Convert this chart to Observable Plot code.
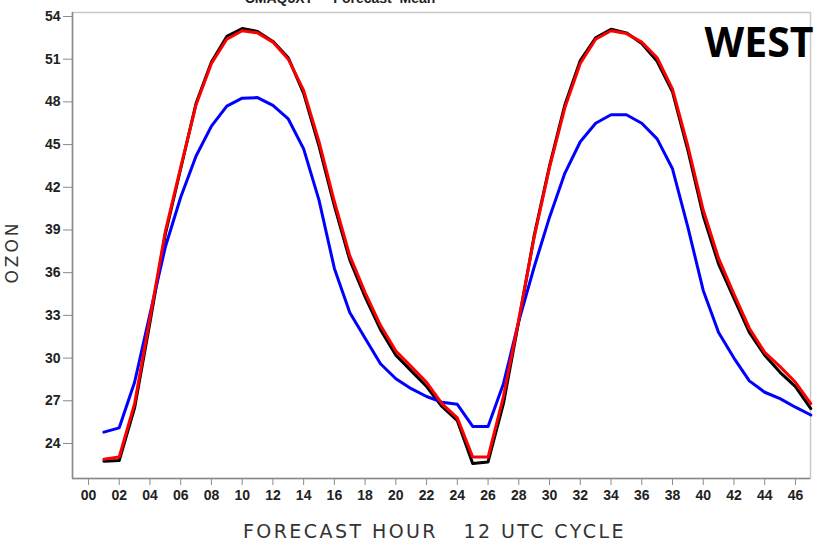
<!DOCTYPE html>
<html>
<head>
<meta charset="utf-8">
<script src="https://cdn.jsdelivr.net/npm/d3@7"></script>
<script src="https://cdn.jsdelivr.net/npm/@observablehq/plot@0.6"></script>
<style>
  html, body { margin: 0; padding: 0; background: #fff; }
  #chart { position: relative; width: 817px; height: 540px; overflow: hidden; }
</style>
</head>
<body>
<div id="chart"></div>
<script>
const hours = [1,2,3,4,5,6,7,8,9,10,11,12,13,14,15,16,17,18,19,20,21,22,23,24,25,26,27,28,29,30,31,32,33,34,35,36,37,38,39,40,41,42,43,44,45,46,47];

const blackSeries = [22.75,22.8,26.5,32.5,38.7,43.3,47.9,50.8,52.6,53.15,52.95,52.25,51.1,48.6,44.9,40.7,36.9,34.3,32.0,30.2,29.1,28.0,26.6,25.6,22.6,22.7,26.8,32.6,38.6,43.5,47.8,50.9,52.5,53.1,52.85,52.1,50.85,48.7,44.6,40.0,36.6,34.2,31.8,30.2,29.0,28.0,26.45];

const redSeries = [22.9,23.05,26.8,32.8,38.9,43.4,47.8,50.7,52.4,53.0,52.85,52.2,51.0,48.8,45.2,41.0,37.2,34.6,32.3,30.5,29.4,28.3,26.8,25.8,23.05,23.05,27.3,32.7,38.5,43.4,47.6,50.7,52.4,53.0,52.8,52.2,51.1,48.9,44.9,40.4,37.0,34.5,32.1,30.4,29.4,28.3,26.8];

const blueSeries = [24.8,25.1,28.3,33.1,37.8,41.3,44.2,46.3,47.7,48.26,48.3,47.75,46.8,44.7,41.1,36.3,33.2,31.4,29.6,28.55,27.85,27.3,26.9,26.75,25.2,25.2,28.2,32.6,36.4,39.9,43.0,45.2,46.5,47.1,47.1,46.5,45.4,43.3,39.2,34.75,31.8,30.0,28.4,27.6,27.15,26.55,26.0];

const xTicks = [0,2,4,6,8,10,12,14,16,18,20,22,24,26,28,30,32,34,36,38,40,42,44,46];
const yTicks = [24,27,30,33,36,39,42,45,48,51,54];

const seriesNames = ["Observed", "Forecast B", "Forecast A"];
const seriesColors = ["#000000", "#0000ff", "#ff0000"];
const seriesValues = [blackSeries, blueSeries, redSeries];

const rows = [];
seriesNames.forEach((name, i) => {
  hours.forEach((h, j) => rows.push({series: name, hour: h, ozone: seriesValues[i][j]}));
});

const plot = Plot.plot({
  width: 817,
  height: 540,
  marginLeft: 72,
  marginRight: 7,
  marginTop: 12,
  marginBottom: 62,
  style: {background: "#fff", fontFamily: "'Liberation Sans', Arial, sans-serif"},
  x: {domain: [-1.04, 46.98], ticks: xTicks, tickFormat: d3.format("02d")},
  y: {domain: [21.54, 54.28], ticks: yTicks},
  color: {domain: seriesNames, range: seriesColors},
  marks: [
    Plot.frame({stroke: "#c8c8c8", strokeWidth: 1.5}),
    Plot.ruleX([-1.04], {stroke: "#8a8a8a", strokeWidth: 1.5}),
    Plot.ruleY([21.54], {stroke: "#8a8a8a", strokeWidth: 1.5}),
    Plot.axisY({ticks: yTicks, tickSize: 9, tickPadding: 3, stroke: "#8a8a8a", fontSize: 14, fontWeight: "bold", fill: "#222", label: null}),
    Plot.axisX({ticks: xTicks, tickFormat: d3.format("02d"), tickSize: 7, tickPadding: 5, stroke: "#8a8a8a", fontSize: 14, fontWeight: "bold", fill: "#222", label: null}),
    Plot.line(rows, {x: "hour", y: "ozone", z: "series", stroke: "series", strokeWidth: 3, strokeLinejoin: "round"}),
    Plot.text(["WEST"], {frameAnchor: "top-right", textAnchor: "end", lineAnchor: "top", dx: 3, dy: 15, fontSize: 41, fontWeight: "bold", fill: "#000", fontFamily: "'Open Sans', sans-serif"})
  ]
});

const svg = d3.select(plot);
svg.append("text")
  .attr("x", 340).attr("y", 3)
  .attr("text-anchor", "middle")
  .attr("font-size", 14).attr("font-weight", "bold")
  .attr("fill", "#222")
  .attr("font-family", "'Liberation Sans', Arial, sans-serif")
  .text("CMAQ5XT  -  Forecast  Mean");
svg.append("text")
  .attr("x", 435).attr("y", 538)
  .attr("text-anchor", "middle")
  .attr("font-size", 19)
  .attr("letter-spacing", "3.6px")
  .attr("fill", "#333")
  .attr("font-family", "'DejaVu Sans', sans-serif")
  .attr("textLength", 384)
  .text("FORECAST HOUR   12 UTC CYCLE");
svg.append("text")
  .attr("transform", "translate(18,252) rotate(-90)")
  .attr("text-anchor", "middle")
  .attr("font-size", 17)
  .attr("letter-spacing", "3px")
  .attr("fill", "#333")
  .attr("font-family", "'DejaVu Sans', sans-serif")
  .text("OZON");

document.getElementById("chart").appendChild(plot);
</script>
</body>
</html>
